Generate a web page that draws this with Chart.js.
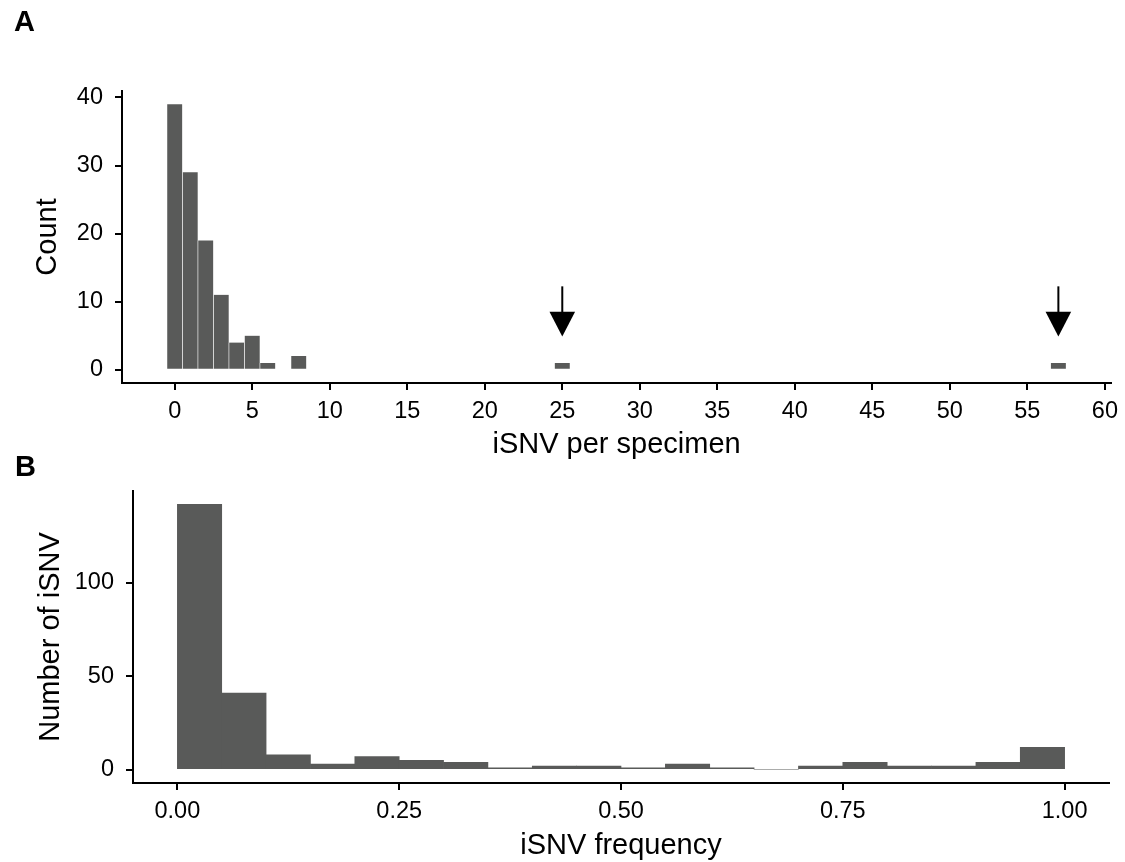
<!DOCTYPE html>
<html lang="en">
<head>
<meta charset="UTF-8">
<title>iSNV histograms</title>
<script src="https://cdn.jsdelivr.net/npm/chart.js"></script>
<style>
  body { margin: 0; background: #fff; }
  #wrap { position: relative; width: 1125px; height: 862px; overflow: hidden; }
  canvas { position: absolute; left: 0; }
  #chartA { top: 0; }
  #chartB { top: 440px; }
</style>
</head>
<body>
<div id="wrap">
  <canvas id="chartA" width="1125" height="460"></canvas>
  <canvas id="chartB" width="1125" height="422"></canvas>
</div>
<script>
// Panel A: iSNV per specimen (bins of width 1 centred on integers)
const specimenBins = [0, 1, 2, 3, 4, 5, 6, 8, 25, 57];
const specimenCounts = [39, 29, 19, 11, 4, 5, 1, 2, 1, 1];
const specimenXTicks = [0, 5, 10, 15, 20, 25, 30, 35, 40, 45, 50, 55, 60];
const specimenYTicks = [0, 10, 20, 30, 40];

// arrows marking the two outlier specimens (data units)
const arrowX = [25, 57];
const arrowTop = 12.25;
const arrowHeadBase = 8.5;
const arrowTip = 4.9;

// Panel B: iSNV frequency (bins of width 0.05)
const freqBinCentres = [0.025, 0.075, 0.125, 0.175, 0.225, 0.275, 0.325, 0.375, 0.425, 0.475,
                        0.525, 0.575, 0.625, 0.675, 0.725, 0.775, 0.825, 0.875, 0.925, 0.975];
const freqCounts = [142, 41, 8, 3, 7, 5, 4, 1, 2, 2, 1, 3, 1, 0, 2, 4, 2, 2, 4, 12];
const freqXTicks = [0, 0.25, 0.5, 0.75, 1];
const freqXLabels = ['0.00', '0.25', '0.50', '0.75', '1.00'];
const freqYTicks = [0, 50, 100];

const BAR = '#595a59';
Chart.defaults.font.family = "'Liberation Sans', Arial, sans-serif";
Chart.defaults.color = '#000';

// arrows drawn through the chart scales
const arrowPlugin = {
    id: 'arrows',
    afterDatasetsDraw(chart) {
        const { ctx, scales: { x, y } } = chart;
        ctx.save();
        ctx.strokeStyle = '#000';
        ctx.fillStyle = '#000';
        ctx.lineWidth = 2;
        arrowX.forEach(v => {
            const px = x.getPixelForValue(v);
            const top = y.getPixelForValue(arrowTop);
            const base = y.getPixelForValue(arrowHeadBase);
            const tip = y.getPixelForValue(arrowTip);
            ctx.beginPath();
            ctx.moveTo(px, top);
            ctx.lineTo(px, base + 1);
            ctx.stroke();
            ctx.beginPath();
            ctx.moveTo(px - 12.8, base);
            ctx.lineTo(px + 12.8, base);
            ctx.lineTo(px, tip);
            ctx.closePath();
            ctx.fill();
        });
        ctx.restore();
    }
};

// panel letter (A / B)
const tagPlugin = {
    id: 'panelTag',
    afterDraw(chart, args, opts) {
        const ctx = chart.ctx;
        ctx.save();
        ctx.font = "bold 29px 'Liberation Sans', Arial, sans-serif";
        ctx.fillStyle = '#000';
        ctx.textBaseline = 'alphabetic';
        ctx.fillText(opts.text, opts.x, opts.y);
        ctx.restore();
    }
};

function axisCommon() {
    return {
        grid: { drawOnChartArea: false, color: '#000', lineWidth: 2, tickLength: 7, offset: false },
        border: { color: '#000', width: 2 }
    };
}

function histChart(id, cfg) {
    return new Chart(document.getElementById(id), {
        type: 'bar',
        data: {
            datasets: [{
                data: cfg.bins.map((b, i) => ({ x: b, y: cfg.counts[i] })),
                backgroundColor: BAR,
                borderColor: '#fff',
                borderWidth: cfg.border,
                borderSkipped: false,
                categoryPercentage: 1,
                barPercentage: 1
            }]
        },
        options: {
            responsive: false,
            animation: false,
            devicePixelRatio: 1,
            layout: { padding: cfg.padding },
            plugins: {
                legend: { display: false },
                tooltip: { enabled: false },
                panelTag: cfg.tag
            },
            scales: {
                x: {
                    type: 'linear',
                    min: cfg.xRange[0],
                    max: cfg.xRange[1],
                    offset: false,
                    ...axisCommon(),
                    ticks: {
                        font: { size: 23.5 },
                        padding: 7,
                        maxRotation: 0,
                        autoSkip: false,
                        callback: cfg.xLabel
                    },
                    afterBuildTicks: s => { s.ticks = cfg.xTicks.map(v => ({ value: v })); },
                    afterFit: s => { s.height = cfg.xHeight; },
                    title: {
                        display: true,
                        text: cfg.xTitle,
                        font: { size: 29, lineHeight: 1 },
                        padding: { top: 0, bottom: cfg.xTitlePad }
                    }
                },
                y: {
                    min: cfg.yRange[0],
                    max: cfg.yRange[1],
                    ...axisCommon(),
                    ticks: { font: { size: 23.5 }, padding: 12 },
                    afterBuildTicks: s => { s.ticks = cfg.yTicks.map(v => ({ value: v })); },
                    afterFit: s => { s.width = cfg.yWidth; },
                    title: {
                        display: true,
                        text: cfg.yTitle,
                        font: { size: 29, lineHeight: 1 },
                        padding: { top: cfg.yTitlePad, bottom: 0 }
                    }
                }
            }
        },
        plugins: cfg.plugins
    });
}

histChart('chartA', {
    bins: specimenBins,
    counts: specimenCounts,
    border: { top: 0, bottom: 0, left: 0.6, right: 0.6 },
    xRange: [-3.4, 60.4],
    yRange: [-1.95, 40.95],
    xTicks: specimenXTicks,
    yTicks: specimenYTicks,
    xLabel: v => v,
    xTitle: 'iSNV per specimen',
    yTitle: 'Count',
    padding: { top: 91, right: 8, bottom: 0, left: 0 },
    xHeight: 77,
    yWidth: 122,
    xTitlePad: 1,
    yTitlePad: 33,
    tag: { text: 'A', x: 14, y: 31 },
    plugins: [arrowPlugin, tagPlugin]
});

histChart('chartB', {
    bins: freqBinCentres,
    counts: freqCounts,
    border: 0,
    xRange: [-0.05, 1.05],
    yRange: [-7.1, 149.1],
    xTicks: freqXTicks,
    yTicks: freqYTicks,
    xLabel: (v, i) => freqXLabels[i],
    xTitle: 'iSNV frequency',
    yTitle: 'Number of iSNV',
    padding: { top: 51, right: 16, bottom: 0, left: 0 },
    xHeight: 79,
    yWidth: 133,
    xTitlePad: 2,
    yTitlePad: 36,
    tag: { text: 'B', x: 15, y: 36 },
    plugins: [tagPlugin]
});
</script>
</body>
</html>
